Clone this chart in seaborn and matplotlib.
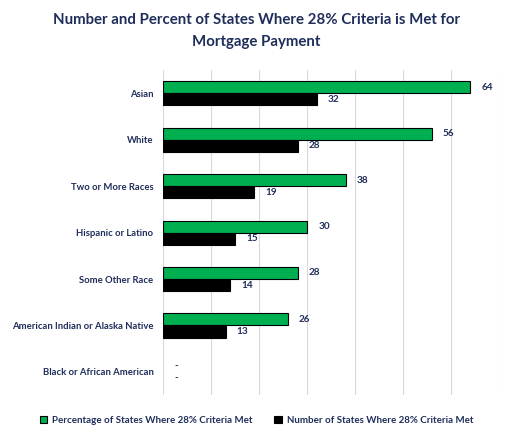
import pandas as pd
import seaborn as sns
import matplotlib.pyplot as plt

races = ["Asian", "White", "Two or More Races", "Hispanic or Latino",
         "Some Other Race", "American Indian or Alaska Native",
         "Black or African American"]
pct_met = [64, 56, 38, 30, 28, 26, 0]
num_met = [32, 28, 19, 15, 14, 13, 0]
series = ["Percentage of States Where 28% Criteria Met",
          "Number of States Where 28% Criteria Met"]

df = pd.DataFrame({
    "Race": races * 2,
    "Value": pct_met + num_met,
    "Series": [series[0]] * len(races) + [series[1]] * len(races),
})

sns.set_style("white")
plt.rcParams["font.family"] = ["Lato", "DejaVu Sans"]
navy = "#1F2D5A"

fig = plt.figure(figsize=(5.13, 4.38), dpi=100)
ax = fig.add_axes([0.318, 0.098, 0.655, 0.742])

sns.barplot(data=df, y="Race", x="Value", hue="Series", orient="h",
            palette=["#00B050", "#000000"], saturation=1, width=0.52,
            edgecolor="black", linewidth=0.8, ax=ax)

for cont in ax.containers:
    labels = []
    for b in cont:
        if b.get_width() > 0:
            labels.append(f"{int(b.get_width())}")
        else:
            labels.append("-")
            b.set_linewidth(0)
    ax.bar_label(cont, labels=labels, padding=8, color=navy,
                 fontsize=7.2, fontweight="bold")

ax.set_xlim(0, 70)
ax.set_xticks(range(0, 71, 10))
ax.set_xticklabels([])
ax.tick_params(axis="x", length=0)
ax.tick_params(axis="y", length=0, pad=7, labelsize=6.8, labelcolor=navy)
for t in ax.get_yticklabels():
    t.set_fontweight("bold")
ax.xaxis.grid(True, color="#D9D9D9", linewidth=0.8)
ax.set_axisbelow(True)
sns.despine(ax=ax, left=True, bottom=True)
ax.set_xlabel("")
ax.set_ylabel("")

fig.suptitle("Number and Percent of States Where 28% Criteria is Met for\nMortgage Payment",
             x=0.5, y=0.97, fontsize=10.8, fontweight="bold", color=navy,
             linespacing=1.7)

ax.legend_.remove()
handles, labels = ax.get_legend_handles_labels()
fig.legend(handles, labels, loc="lower center", bbox_to_anchor=(0.5, 0.01),
           ncol=2, frameon=False, handlelength=0.8,
           handleheight=0.8, columnspacing=2.2, handletextpad=0.5,
           labelcolor=navy, prop={"weight": "bold", "size": 7})

fig.savefig("out.png", dpi=100)
